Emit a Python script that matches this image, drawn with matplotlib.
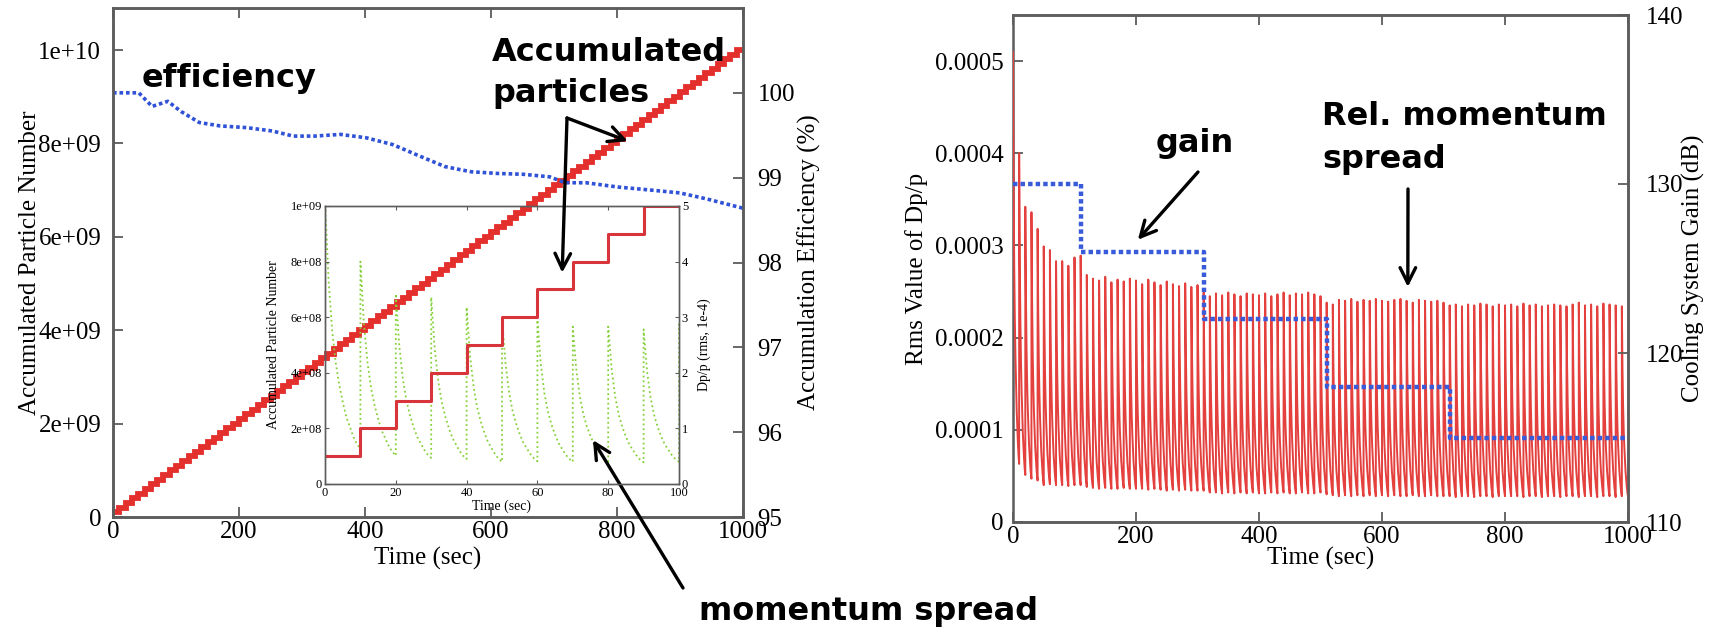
import numpy as np
import matplotlib
matplotlib.use('Agg')
import matplotlib.pyplot as plt

plt.rcParams['font.family'] = 'Liberation Serif'

W, H = 1713, 627

# stacking: one injection of 1e8 particles every 10 s
cycle = 10.0
per_injection = 1e8
n_injections = 100

# accumulation efficiency (%)
eff_t = [0, 41, 62, 87, 108, 137, 170, 212, 253, 286, 320, 361, 402, 444, 485,
         527, 568, 610, 651, 693, 718, 751, 801, 859, 900, 942, 1000]
eff_pct = [100.0, 100.0, 99.84, 99.9, 99.78, 99.65, 99.61, 99.59, 99.55, 99.49,
           99.49, 99.51, 99.47, 99.39, 99.26, 99.13, 99.07, 99.05, 99.04, 99.01,
           98.94, 98.94, 98.89, 98.85, 98.82, 98.75, 98.64]

# cooling system gain (dB)
gain_t = [0, 110, 310, 510, 710, 1000]
gain_db = [130, 126, 122, 118, 115, 115]

# rms dp/p in units of 1e-4: right after each injection ...
spread_peak = [
    5.10, 4.00, 3.42, 3.36, 3.18, 2.99, 2.95, 2.83, 2.83, 2.78,
    2.87, 2.89, 2.68, 2.64, 2.62, 2.66, 2.60, 2.63, 2.61, 2.64,
    2.62, 2.58, 2.63, 2.60, 2.57, 2.61, 2.58, 2.56, 2.59, 2.55,
    2.57, 2.49, 2.45, 2.48, 2.46, 2.49, 2.47, 2.45, 2.48, 2.47,
    2.46, 2.48, 2.45, 2.47, 2.49, 2.46, 2.48, 2.47, 2.49, 2.47,
    2.45, 2.38, 2.36, 2.41, 2.40, 2.42, 2.39, 2.41, 2.40, 2.42,
    2.40, 2.39, 2.41, 2.42, 2.40, 2.38, 2.41, 2.40, 2.39, 2.40,
    2.38, 2.35, 2.36, 2.34, 2.36, 2.35, 2.37, 2.36, 2.34, 2.36,
    2.35, 2.36, 2.34, 2.37, 2.35, 2.36, 2.34, 2.35, 2.36, 2.35,
    2.34, 2.36, 2.38, 2.35, 2.36, 2.34, 2.37, 2.36, 2.35, 2.34,
]
# ... and just before the next one
spread_floor = [
    0.63, 0.51, 0.47, 0.45, 0.40, 0.41, 0.40, 0.40, 0.39, 0.40,
    0.40, 0.38, 0.37, 0.36, 0.37, 0.36, 0.36, 0.37, 0.36, 0.36,
    0.36, 0.35, 0.36, 0.35, 0.34, 0.35, 0.34, 0.35, 0.34, 0.34,
    0.34, 0.32, 0.32, 0.31, 0.32, 0.31, 0.32, 0.31, 0.32, 0.31,
    0.31, 0.32, 0.31, 0.32, 0.31, 0.31, 0.32, 0.31, 0.31, 0.32,
    0.30, 0.29, 0.28, 0.29, 0.28, 0.29, 0.28, 0.29, 0.28, 0.29,
    0.28, 0.29, 0.28, 0.28, 0.29, 0.28, 0.28, 0.29, 0.28, 0.28,
    0.28, 0.27, 0.28, 0.28, 0.27, 0.28, 0.28, 0.27, 0.28, 0.28,
    0.28, 0.28, 0.27, 0.28, 0.28, 0.27, 0.28, 0.28, 0.27, 0.28,
    0.28, 0.27, 0.28, 0.28, 0.27, 0.28, 0.28, 0.27, 0.28, 0.28,
]
# cooling decay inside one cycle (1 = peak, 0 = floor), 1 s apart
decay_shape = [1.0, 0.68, 0.48, 0.35, 0.26, 0.19, 0.13, 0.09, 0.05, 0.02, 0.0]

time_ticks = [0, 200, 400, 600, 800, 1000]
num_ticks = [0, 2e9, 4e9, 6e9, 8e9, 1e10]
num_labels = ['0', '2e+09', '4e+09', '6e+09', '8e+09', '1e+10']
eff_ticks = [95, 96, 97, 98, 99, 100]
rms_ticks = [0, 1e-4, 2e-4, 3e-4, 4e-4, 5e-4]
rms_labels = ['0', '0.0001', '0.0002', '0.0003', '0.0004', '0.0005']
gain_ticks = [110, 120, 130, 140]
inset_t_ticks = [0, 20, 40, 60, 80, 100]
inset_n_ticks = [0, 2e8, 4e8, 6e8, 8e8, 1e9]
inset_n_labels = ['0', '2e+08', '4e+08', '6e+08', '8e+08', '1e+09']
inset_dp_ticks = [0, 1, 2, 3, 4, 5]

inj_t = np.arange(n_injections + 1) * cycle
accumulated = per_injection * np.minimum(np.arange(1, n_injections + 2), n_injections)


def sawtooth(peaks, floors):
    t, v = [], []
    step = cycle / (len(decay_shape) - 1)
    for k, (hi, lo) in enumerate(zip(peaks, floors)):
        for j, s in enumerate(decay_shape):
            t.append(k * cycle + j * step)
            v.append(lo + (hi - lo) * s)
    return np.array(t), np.array(v)


def px_box(left, top, right, bottom):
    return [left / W, (H - bottom) / H, (right - left) / W, (bottom - top) / H]


GRAY = '#5c5c5c'


def frame(ax, lw=1.8):
    for s in ax.spines.values():
        s.set_color(GRAY)
        s.set_linewidth(lw)


fig = plt.figure(figsize=(W / 100, H / 100), dpi=100)

# ---- left: accumulated particles and efficiency
ax = fig.add_axes(px_box(113, 8, 743, 517))
ax.plot(inj_t, accumulated, drawstyle='steps-post', color='#e3302d', lw=4.2,
        solid_joinstyle='miter', solid_capstyle='butt')
ax.set_xlim(0, 1000)
ax.set_ylim(0, 1.09e10)
ax.set_xticks(time_ticks)
ax.set_yticks(num_ticks)
ax.set_yticklabels(num_labels)
ax.tick_params(direction='in', length=7, width=1.3, color=GRAY, labelsize=18,
               top=True, right=False)
ax.tick_params(axis='y', pad=8.5)
ax.tick_params(axis='x', pad=3)
ax.set_xlabel('Time (sec)', fontsize=18)
ax.xaxis.set_label_coords(0.5, -30 / 509)
ax.set_ylabel('Accumulated Particle Number', fontsize=18)
ax.yaxis.set_label_coords((41 - 113) / 630, 0.5)
frame(ax)

ax2 = ax.twinx()
ax2.plot(eff_t, eff_pct, color='#2f52d6', lw=2.6, ls=(0, (1, 0.8)))
ax2.set_ylim(95, 101)
ax2.set_yticks(eff_ticks)
ax2.tick_params(direction='in', length=7, width=1.3, color=GRAY, labelsize=18, pad=10.5)
ax2.set_ylabel('Accumulation Efficiency (%)', fontsize=18)
ax2.yaxis.set_label_coords((798 - 113) / 630, 0.5)
frame(ax2)

# ---- inset: first 100 s
axi = fig.add_axes(px_box(325, 206, 679, 484))
axi.patch.set_visible(False)
axi2 = axi.twinx()
tt, vv = sawtooth(spread_peak[:11], spread_floor[:11])
axi2.plot(tt, vv, color='#86d13a', lw=1.3, ls=':')
axi.plot(inj_t[:11], accumulated[:11], drawstyle='steps-post', color='#d8343c', lw=2.2)
axi.set_zorder(axi2.get_zorder() + 1)
axi.set_xlim(0, 100)
axi.set_ylim(0, 1e9)
axi2.set_ylim(0, 5)
axi.set_xticks(inset_t_ticks)
axi.set_yticks(inset_n_ticks)
axi.set_yticklabels(inset_n_labels)
axi2.set_yticks(inset_dp_ticks)
for a in (axi, axi2):
    a.tick_params(direction='in', length=3, width=0.8, color=GRAY, labelsize=9, pad=2)
    frame(a, 1.0)
axi.tick_params(top=True, right=False)
axi.set_xlabel('Time (sec)', fontsize=10)
axi.xaxis.set_label_coords(0.5, -16 / 278)
axi.set_ylabel('Accumulated Particle Number', fontsize=10)
axi.yaxis.set_label_coords((280 - 325) / 354, 0.5)
axi2.set_ylabel('Dp/p (rms, 1e-4)', fontsize=10)
axi2.yaxis.set_label_coords((698 - 325) / 354, 0.5)

# ---- right: momentum spread and cooling gain
axr = fig.add_axes(px_box(1013, 15, 1628, 522))
t_all, v_all = sawtooth(spread_peak, spread_floor)
axr.plot(t_all, v_all * 1e-4, color='#e3403e', lw=1.4, zorder=3)
axr.set_xlim(0, 1000)
axr.set_ylim(0, 5.5e-4)
axr.set_xticks(time_ticks)
axr.set_yticks(rms_ticks)
axr.set_yticklabels(rms_labels)
axr.tick_params(direction='in', length=7, width=1.3, color=GRAY, labelsize=18,
                top=True, right=False)
axr.tick_params(axis='y', pad=7)
axr.tick_params(axis='x', pad=3)
axr.set_xlabel('Time (sec)', fontsize=18)
axr.xaxis.set_label_coords(0.5, -25 / 507)
axr.set_ylabel('Rms Value of Dp/p', fontsize=18)
axr.yaxis.set_label_coords((928 - 1013) / 615, 0.5)
frame(axr)

axr2 = axr.twinx()
axr2.plot(gain_t, gain_db, drawstyle='steps-post', color='#3a5bd9', lw=3.2, ls=(0, (1, 0.7)))
axr2.set_ylim(110, 140)
axr2.set_yticks(gain_ticks)
axr2.tick_params(direction='in', length=7, width=1.3, color=GRAY, labelsize=18, pad=13)
axr2.set_ylabel('Cooling System Gain (dB)', fontsize=18)
axr2.yaxis.set_label_coords((1682 - 1013) / 615, 0.5)
frame(axr2)
# keep the first injection spike at t = 0 visible above the left frame line
axr2.spines['left'].set_visible(False)

# ---- callouts
note = dict(fontsize=23, fontweight='bold', family='DejaVu Sans', ha='left', va='baseline')
fig.text(142 / W, 1 - 87.5 / H, 'efficiency', **note)
fig.text(492 / W, 1 - 61 / H, 'Accumulated', **note)
fig.text(492 / W, 1 - 102 / H, 'particles', **note)
fig.text(699 / W, 1 - 620 / H, 'momentum spread', **note)
fig.text(1156 / W, 1 - 152 / H, 'gain', **note)
fig.text(1322 / W, 1 - 125 / H, 'Rel. momentum', **note)
fig.text(1322 / W, 1 - 168 / H, 'spread', **note)

arrow = dict(arrowstyle='->', lw=2.4, color='black', mutation_scale=28, shrinkA=0, shrinkB=0)


def callout(target, xy, tail):
    target.annotate('', xy=xy, xycoords='data',
                    xytext=(tail[0] / W, 1 - tail[1] / H), textcoords='figure fraction',
                    arrowprops=arrow, annotation_clip=False)


callout(ax, (817, 8.05e9), (567, 118))
callout(axi, (67, 7.6e8), (567, 118))
callout(axi2, (75.7, 0.79), (683, 588))
callout(axr2, (203, 126.7), (1198, 172))
callout(axr, (642, 2.55e-4), (1408, 189))

fig.savefig('out.png', dpi=100)
